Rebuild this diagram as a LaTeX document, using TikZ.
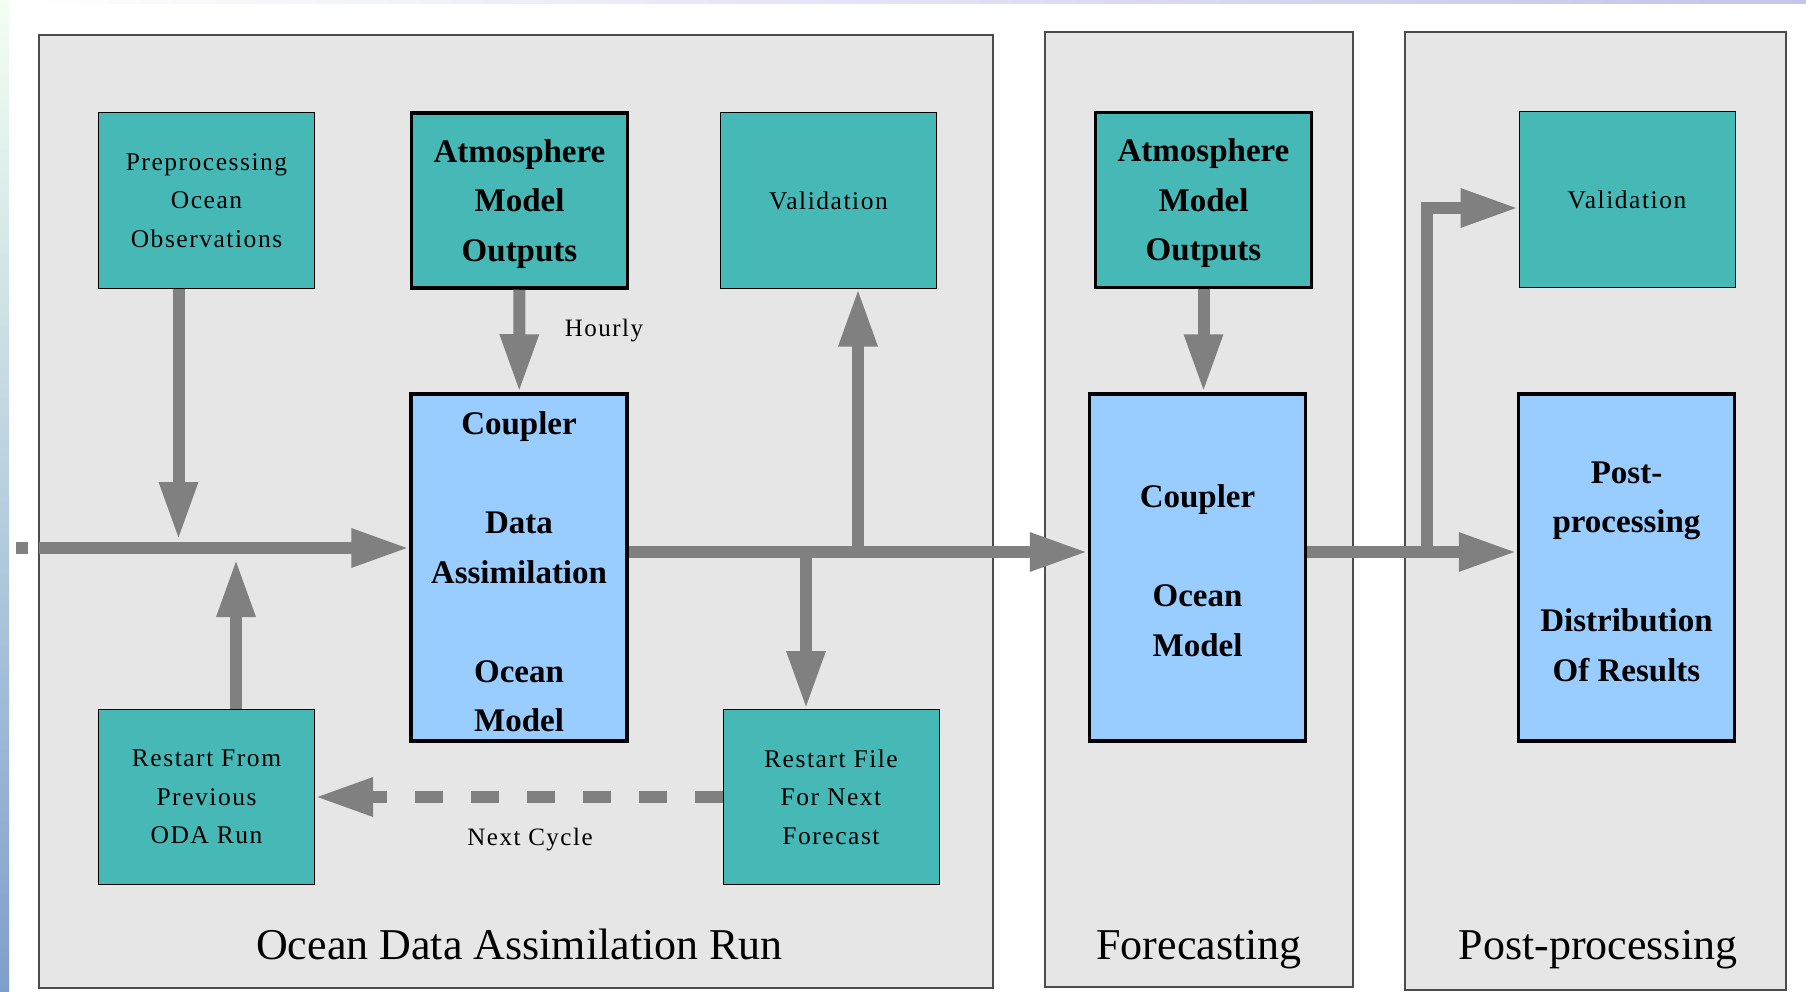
\documentclass[tikz,border=0pt]{standalone}
\usepackage{fontspec}
\setmainfont{Liberation Serif}
\newfontfamily\spacedfont[LetterSpace=6]{Liberation Serif}
\usetikzlibrary{arrows.meta}

\definecolor{panelgray}{HTML}{E6E6E6}
\definecolor{boxteal}{HTML}{46B8B6}
\definecolor{boxblue}{HTML}{99CCFF}
\definecolor{flowgray}{HTML}{808080}
\definecolor{slideblue}{HTML}{7E9FCB}
\definecolor{slidelav}{HTML}{C3C5EA}

\begin{document}
\begin{tikzpicture}[x=1pt,y=-1pt,
    panel/.style={draw=black!70,line width=1.4pt,fill=panelgray},
    task/.style={draw=black,line width=1pt,fill=boxteal,minimum width=216pt,minimum height=175pt,
        inner sep=0pt,text depth=0pt,align=center,font=\spacedfont\fontsize{25.5}{38.5}\selectfont},
    keytask/.style={task,line width=3.5pt,font=\bfseries\fontsize{33}{49.5}\selectfont},
    model/.style={keytask,fill=boxblue,minimum height=347pt},
    note/.style={font=\spacedfont\fontsize{25}{30}\selectfont},
    title/.style={anchor=base,font=\fontsize{44}{52}\selectfont},
    flow/.style={draw=flowgray,line width=12pt,line join=miter,-{Triangle[length=58pt,width=36pt]}}]
    \useasboundingbox (0,0) rectangle (1806,992);
    \fill[white] (0,0) rectangle (1806,992);
    % slide edges
    \shade[left color=white,right color=slidelav] (0,0) rectangle (1806,4);
    \shade[top color=green!5!white,bottom color=slideblue] (0,0) rectangle (9,992);

    % the three stages
    \draw[panel] (39,35) rectangle (993,988);
    \draw[panel] (1045,32) rectangle (1353,987);
    \draw[panel] (1405,32) rectangle (1786,990);
    \node[title] (odatitle) at (519.5,959) {Ocean Data Assimilation Run};
    \node[title] (fctitle) at (1199,959) {Forecasting};
    \node[title] (pptitle) at (1598,959) {Post-processing};

    % ocean data assimilation run
    \node[task] (prep) at (206.5,200.5) {Preprocessing\\Ocean\\Observations};
    \node[keytask] (atm1) at (519.5,200.5) {Atmosphere\\Model\\Outputs};
    \node[task] (val1) at (828.5,200.5) {Validation};
    \node[model] (cda) at (519,567.5) {\rule{0pt}{31pt}Coupler\\[49.5pt]Data\\Assimilation\\[49.5pt]Ocean\\Model};
    \node[task] (rfrom) at (206.5,797) {Restart From\\Previous\\ODA Run};
    \node[task] (rfile) at (831,797) {Restart File\\For Next\\Forecast};
    \node[note] (hourly) at (604,331) {Hourly};
    \node[note] (nextcycle) at (530,840) {Next Cycle};

    % forecasting
    \node[keytask] (atm2) at (1203.5,200) {Atmosphere\\Model\\Outputs};
    \node[model] (com) at (1197.5,567.5) {\rule{0pt}{29pt}Coupler\\[49.5pt]Ocean\\Model};

    % post-processing
    \node[task] (val2) at (1627,199.5) {Validation};
    \node[model] (post) at (1626.5,567.5) {\rule{0pt}{29pt}Post-\\processing\\[49.5pt]Distribution\\Of Results};

    % junctions on the main line
    \coordinate (stub) at (16,548);
    \coordinate (feed) at (39,548);
    \coordinate (obsin) at (178.5,540);
    \coordinate (rstin) at (236,559);
    \coordinate (tapval) at (858,552);
    \coordinate (taprst) at (806,552);
    \coordinate (tappp) at (1427,552);
    \coordinate (bend) at (1427,208);

    \fill[flowgray] (stub) ++(0,-6) rectangle ++(12,12);
    \draw[flow] (feed) -- (feed -| cda.west);
    \draw[flow] (prep.south -| obsin) -- (obsin);
    \draw[flow] (rfrom.north -| rstin) -- (rstin);
    \draw[flow] (atm1) -- (cda);
    \draw[flow] (cda.east |- tapval) -- (com.west |- tapval);
    \draw[flow] (tapval) -- (val1.south -| tapval);
    \draw[flow] (taprst) -- (rfile.north -| taprst);
    \draw[flow,dash pattern=on 28pt off 28pt] (rfile.west) -- (rfrom.east);
    \draw[flow] (atm2.south) -- (atm2.south |- com.north);
    \draw[flow] (com.east |- tappp) -- (post.west |- tappp);
    \draw[flow] (tappp) -- (bend) -- (bend -| val2.west);
\end{tikzpicture}
\end{document}
